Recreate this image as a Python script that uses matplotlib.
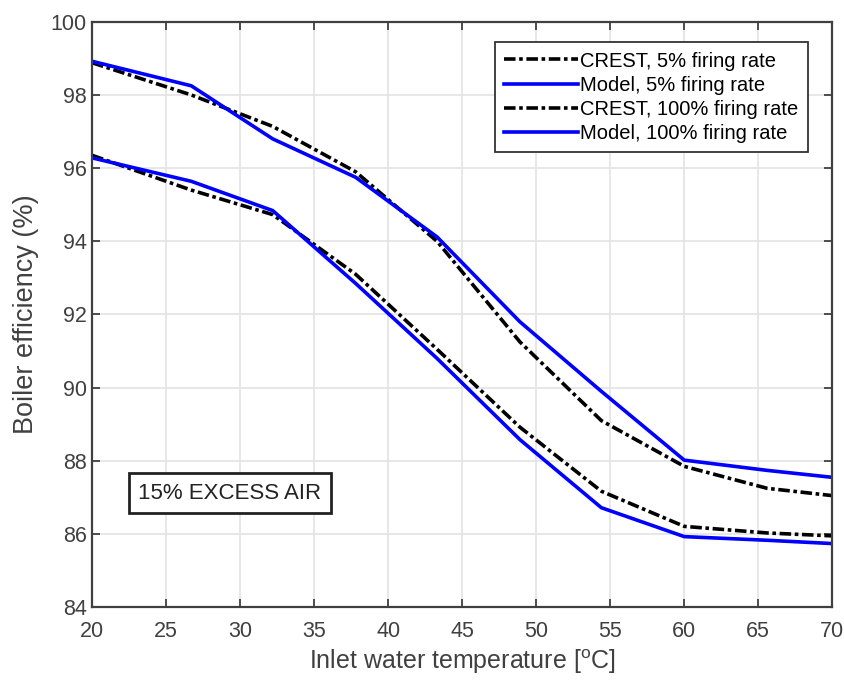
import matplotlib
matplotlib.use("Agg")
import matplotlib.pyplot as plt

plt.rcParams['font.family'] = ['Liberation Sans', 'DejaVu Sans']

# inlet water temperature [C]
temps = [20, 26.7, 32.2, 37.8, 43.3, 48.9, 54.4, 60, 65.6, 70]

# boiler efficiency (%)
crest_5 = [98.88, 98.0, 97.14, 95.9, 94.0, 91.25, 89.1, 87.85, 87.25, 87.05]
model_5 = [98.92, 98.25, 96.8, 95.75, 94.12, 91.8, 89.9, 88.02, 87.74, 87.55]
crest_100 = [96.35, 95.4, 94.73, 93.1, 91.05, 88.92, 87.17, 86.21, 86.03, 85.95]
model_100 = [96.28, 95.64, 94.84, 92.85, 90.8, 88.58, 86.72, 85.93, 85.83, 85.74]

labels = ["CREST, 5% firing rate", "Model, 5% firing rate",
          "CREST, 100% firing rate", "Model, 100% firing rate"]

dashdot = (0, (3.2, 1.0, 1.0, 1.0))

fig = plt.figure(figsize=(8.45, 6.8), dpi=100)
ax = fig.add_axes([0.109, 0.107, 0.876, 0.861])

ax.plot(temps, crest_5, color='black', lw=2.6, linestyle=dashdot, label=labels[0])
ax.plot(temps, model_5, color='blue', lw=2.6, label=labels[1])
ax.plot(temps, crest_100, color='black', lw=2.6, linestyle=dashdot, label=labels[2])
ax.plot(temps, model_100, color='blue', lw=2.6, label=labels[3])

ax.set_xlim(20, 70)
ax.set_ylim(84, 100)
ax.set_xticks(range(20, 71, 5))
ax.set_yticks(range(84, 101, 2))
ax.grid(True, color='#e3e3e3', lw=1.2)
ax.set_axisbelow(True)

for s in ax.spines.values():
    s.set_color('#404040')
    s.set_linewidth(1.6)
ax.tick_params(direction='in', length=6, width=1.3, color='#404040',
               top=True, right=True, labelsize=15.5, labelcolor='#404040')
ax.tick_params(axis='x', pad=10)
ax.tick_params(axis='y', pad=4)

ax.set_xlabel("Inlet water temperature [$\\mathregular{^o}$C]", fontsize=18, color='#404040', labelpad=4)
ax.set_ylabel("Boiler efficiency (%)", fontsize=19.5, color='#404040', labelpad=8)

leg = ax.legend(loc='upper right', fontsize=14.5, handlelength=3.7, handletextpad=0.1,
                labelspacing=0.26, borderpad=0.45, borderaxespad=0.3, fancybox=False, framealpha=1,
                bbox_to_anchor=(0.975, 0.975))
leg.get_frame().set_edgecolor('#333333')
leg.get_frame().set_linewidth(1.3)

ax.text(29.3, 87.12, "15% EXCESS AIR", fontsize=16, color='#222222', ha='center', va='center',
        bbox=dict(boxstyle='square,pad=0.42', facecolor='white', edgecolor='#222222', lw=2))

fig.savefig("out.png", dpi=100)
